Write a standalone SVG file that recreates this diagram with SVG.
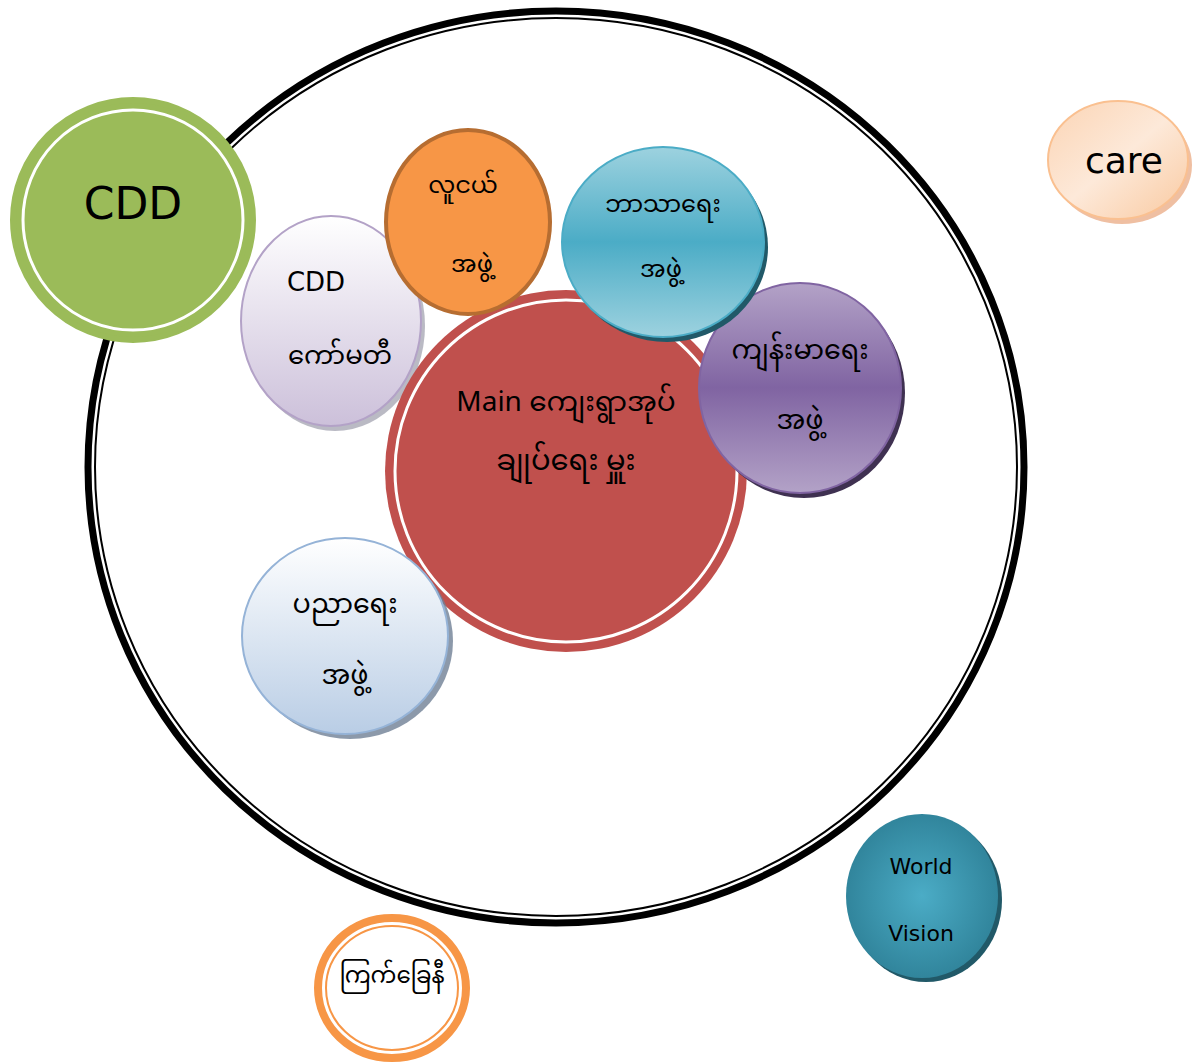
<svg xmlns="http://www.w3.org/2000/svg" width="1197" height="1064" viewBox="0 0 1197 1064">
<style>
.t{font-family:"Noto Sans Myanmar","Padauk","Myanmar Text","DejaVu Sans","Liberation Sans",sans-serif;fill:#000;text-anchor:middle}
.l{font-family:"DejaVu Sans","Liberation Sans",sans-serif;fill:#000;text-anchor:middle}
</style>
<defs>
<linearGradient id="gLav" x1="0" y1="0" x2="0" y2="1"><stop offset="0" stop-color="#ffffff"/><stop offset="1" stop-color="#ccc0da"/></linearGradient>
<linearGradient id="gBlue" x1="0" y1="0" x2="0" y2="1"><stop offset="0" stop-color="#9dd2df"/><stop offset="0.5" stop-color="#4bacc6"/><stop offset="1" stop-color="#9dd2df"/></linearGradient>
<linearGradient id="gPur" x1="0" y1="0" x2="0" y2="1"><stop offset="0" stop-color="#b3a2c7"/><stop offset="0.5" stop-color="#8064a2"/><stop offset="1" stop-color="#b3a2c7"/></linearGradient>
<linearGradient id="gEdu" x1="0" y1="0" x2="0" y2="1"><stop offset="0" stop-color="#ffffff"/><stop offset="1" stop-color="#b9cde5"/></linearGradient>
<linearGradient id="gCare" x1="0" y1="0" x2="1" y2="1"><stop offset="0" stop-color="#fbd4b4"/><stop offset="0.5" stop-color="#fde9d9"/><stop offset="1" stop-color="#f9c9a0"/></linearGradient>
<radialGradient id="gWV" cx="0.5" cy="0.5" r="0.5"><stop offset="0" stop-color="#4bacc6"/><stop offset="1" stop-color="#31859c"/></radialGradient>
</defs>

<g id="outer">
<ellipse cx="556" cy="467" rx="468" ry="456" fill="#fff" stroke="#000" stroke-width="7"/>
<ellipse cx="556" cy="467" rx="461" ry="449" fill="none" stroke="#000" stroke-width="2"/>
</g>

<g id="cdd">
<circle cx="133" cy="220" r="120" fill="#9bbb59" stroke="#9bbb59" stroke-width="6"/>
<circle cx="133" cy="220" r="110" fill="none" stroke="#fff" stroke-width="3"/>
<text class="l" x="133" y="219" font-size="44">CDD</text>
</g>

<g id="care">
<ellipse cx="1122" cy="165" rx="70" ry="59" fill="#e8a47a" opacity="0.7"/>
<ellipse cx="1118" cy="160" rx="70" ry="59" fill="url(#gCare)" stroke="#fac090" stroke-width="2"/>
<text class="l" x="1124" y="173" font-size="36">care</text>
</g>

<g id="committee">
<ellipse cx="335" cy="326" rx="90" ry="105" fill="#8c8c9c" opacity="0.6"/>
<ellipse cx="331" cy="321" rx="90" ry="105" fill="url(#gLav)" stroke="#b3a2c7" stroke-width="2"/>
<text class="l" x="316" y="291" font-size="26">CDD</text>
<text class="t" x="340" y="364" font-size="26">ကော်မတီ</text>
</g>

<g id="main">
<circle cx="566" cy="471" r="181" fill="#c0504d"/>
<circle cx="566" cy="471" r="171" fill="none" stroke="#fff" stroke-width="3"/>
<text class="t" x="566" y="411" font-size="28">Main ကျေးရွာအုပ်</text>
<text class="t" x="566" y="470" font-size="29">ချုပ်ရေး မှူး</text>
</g>

<g id="youth">
<ellipse cx="468" cy="222" rx="82" ry="92" fill="#f79646" stroke="#b66d31" stroke-width="4"/>
<text class="t" x="463" y="193" font-size="24">လူငယ်</text>
<text class="t" x="472" y="272" font-size="24">အဖွဲ့</text>
</g>

<g id="health">
<ellipse cx="804" cy="393" rx="101" ry="105" fill="#3f3151"/>
<ellipse cx="800" cy="388" rx="101" ry="105" fill="url(#gPur)" stroke="#8064a2" stroke-width="2"/>
<text class="t" x="800" y="359" font-size="27">ကျန်းမာရေး</text>
<text class="t" x="800" y="429" font-size="27">အဖွဲ့</text>
</g>

<g id="religion">
<ellipse cx="667" cy="247" rx="101" ry="95" fill="#215968"/>
<ellipse cx="663" cy="242" rx="101" ry="95" fill="url(#gBlue)" stroke="#4bacc6" stroke-width="2"/>
<text class="t" x="663" y="212" font-size="24">ဘာသာရေး</text>
<text class="t" x="661" y="277" font-size="24">အဖွဲ့</text>
</g>

<g id="education">
<ellipse cx="350" cy="641" rx="103" ry="98" fill="#6f7f95" opacity="0.8"/>
<ellipse cx="345" cy="636" rx="103" ry="98" fill="url(#gEdu)" stroke="#95b3d7" stroke-width="2"/>
<text class="t" x="345" y="613" font-size="27">ပညာရေး</text>
<text class="t" x="345" y="684" font-size="27">အဖွဲ့</text>
</g>

<g id="redcross">
<ellipse cx="392" cy="988" rx="74" ry="70" fill="#fff" stroke="#f79646" stroke-width="8"/>
<ellipse cx="392" cy="988" rx="66" ry="62" fill="none" stroke="#f79646" stroke-width="2"/>
<text class="t" x="392" y="983" font-size="23">ကြက်ခြေနီ</text>
</g>

<g id="worldvision">
<ellipse cx="926" cy="900" rx="76" ry="82" fill="#215968"/>
<ellipse cx="922" cy="896" rx="76" ry="82" fill="url(#gWV)"/>
<text class="l" x="921" y="874" font-size="22">World</text>
<text class="l" x="921" y="941" font-size="22">Vision</text>
</g>
</svg>
